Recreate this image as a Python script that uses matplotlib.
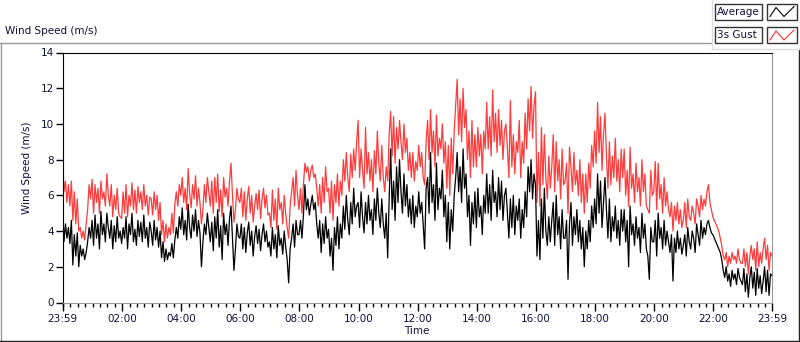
import numpy as np
import matplotlib
matplotlib.use("Agg")
import matplotlib.pyplot as plt
from matplotlib.patches import Rectangle

# minutes after 23:59, one sample every 3 minutes (one row = one hour)
minutes = np.arange(0, 1441, 3)

average = [
    5.5, 3.4, 4.4, 3.6, 4.2, 3.3, 4.6, 2.1, 3.8, 2.6, 3.9, 2.0, 3.2, 2.6, 3.0, 2.4, 2.8, 3.4, 4.2, 3.6,
    4.6, 3.2, 4.9, 3.6, 4.4, 3.0, 5.1, 3.8, 4.4, 3.4, 5.0, 4.2, 3.6, 4.6, 3.0, 4.3, 3.4, 4.8, 3.6, 4.0,
    3.3, 4.2, 3.6, 4.8, 3.0, 4.4, 3.8, 5.0, 3.4, 4.1, 3.2, 4.6, 3.7, 4.5, 3.4, 4.9, 3.6, 4.2, 3.1, 4.5,
    4.0, 3.2, 4.6, 3.5, 4.2, 3.1, 4.0, 2.5, 3.4, 2.3, 3.0, 2.4, 2.8, 2.6, 3.3, 2.5, 3.5, 4.2, 3.6, 4.8,
    4.1, 5.3, 3.8, 4.6, 3.5, 5.5, 4.2, 3.6, 4.9, 4.0, 5.2, 3.7, 4.6, 3.9, 2.0, 3.4, 4.4, 3.8, 5.0, 4.2,
    3.4, 4.5, 2.9, 4.8, 3.6, 5.2, 3.1, 4.3, 2.4, 5.0, 3.8, 4.4, 3.2, 4.7, 5.4, 3.6, 1.8, 3.0, 4.4, 3.7,
    3.6, 4.4, 3.0, 4.2, 2.8, 3.9, 4.5, 3.2, 4.0, 2.6, 3.7, 4.3, 3.3, 4.1, 2.9, 3.8, 4.4, 3.4, 4.0, 3.1,
    3.4, 2.6, 4.2, 3.0, 3.8, 2.5, 4.3, 3.2, 3.6, 2.7, 4.0, 3.1, 2.4, 1.1, 3.0, 3.6, 4.4, 3.1, 4.6, 3.8,
    3.8, 4.6, 3.6, 4.9, 6.6, 5.2, 5.8, 4.9, 5.5, 6.0, 5.2, 5.6, 4.4, 3.6, 4.6, 2.8, 4.4, 3.3, 4.8, 3.6,
    4.1, 2.6, 3.6, 1.8, 4.2, 3.2, 4.8, 3.0, 4.4, 3.6, 5.4, 4.1, 6.0, 4.6, 3.8, 5.6, 4.4, 6.4, 4.8, 5.4,
    5.6, 4.2, 6.2, 4.8, 3.9, 5.6, 4.4, 6.0, 4.6, 5.2, 3.8, 5.8, 4.6, 6.4, 5.0, 4.2, 5.8, 4.4, 3.6, 5.0,
    2.5, 5.8, 8.6, 5.2, 6.8, 4.6, 7.6, 5.6, 8.0, 6.2, 5.0, 7.2, 5.4, 6.6, 4.8, 5.8, 4.4, 6.0, 4.2, 5.4,
    4.8, 6.2, 5.0, 5.6, 4.4, 3.0, 6.4, 7.0, 5.0, 8.4, 5.6, 6.6, 4.6, 7.8, 5.2, 6.4, 5.8, 7.4, 4.8, 6.0,
    3.4, 5.6, 3.0, 5.2, 4.0, 6.0, 7.0, 8.4, 6.2, 7.6, 5.6, 8.6, 6.4, 7.2, 4.8, 6.0, 3.2, 5.6, 4.4, 6.2,
    4.2, 6.4, 4.8, 5.4, 3.8, 6.0, 5.0, 7.2, 5.0, 6.6, 4.6, 7.4, 5.6, 6.2, 4.8, 7.0, 5.2, 6.8, 4.6, 6.0,
    6.4, 5.0, 3.6, 5.8, 4.2, 6.0, 3.8, 5.4, 4.6, 5.8, 3.6, 5.2, 4.2, 6.2, 4.8, 7.6, 6.2, 8.0, 5.8, 7.2,
    6.6, 2.6, 4.6, 2.4, 5.8, 3.6, 6.4, 4.0, 3.2, 4.8, 3.4, 4.6, 5.6, 3.2, 6.0, 3.8, 4.8, 3.0, 5.2, 3.6,
    3.6, 4.6, 1.3, 4.4, 5.6, 3.2, 4.8, 3.8, 5.2, 3.4, 4.6, 3.0, 4.2, 2.0, 4.0, 3.0, 4.6, 3.4, 5.4, 4.2,
    5.8, 4.4, 7.2, 5.0, 6.8, 4.2, 5.6, 7.0, 5.2, 3.6, 5.8, 3.4, 4.8, 4.0, 5.4, 3.6, 4.6, 3.2, 5.2, 4.0,
    5.2, 3.4, 4.6, 2.0, 5.4, 3.8, 4.4, 3.2, 4.8, 3.6, 4.2, 2.8, 5.0, 3.6, 4.4, 3.0, 2.6, 1.3, 4.2, 3.4,
    3.4, 4.6, 2.6, 5.0, 3.6, 4.2, 3.0, 4.6, 3.2, 4.0, 3.4, 2.8, 3.8, 1.2, 3.6, 2.8, 4.0, 3.0, 3.6, 2.7,
    3.2, 3.8, 2.6, 4.2, 3.4, 3.0, 4.0, 3.6, 2.8, 4.4, 3.8, 3.2, 4.6, 3.6, 4.2, 3.8, 4.4, 4.6, 4.2, 3.9,
    3.8, 3.6, 3.4, 3.2, 3.0, 2.8, 2.4, 1.8, 1.4, 2.0, 1.2, 1.6, 0.9, 1.8, 1.3, 1.6, 1.0, 1.9, 1.4, 1.2,
    1.0, 1.9, 0.6, 1.6, 0.3, 1.4, 2.0, 0.8, 1.7, 0.4, 1.9, 0.8, 1.5, 0.5, 1.2, 2.0, 0.6, 1.8, 0.4, 1.6,
    1.5,
]

gust = [
    8.5, 6.2, 6.8, 5.6, 6.6, 5.4, 6.8, 4.6, 6.2, 4.4, 5.8, 4.0, 4.2, 3.6, 4.0, 3.5, 4.4, 5.2, 6.6, 5.8,
    6.9, 5.0, 6.6, 5.6, 6.4, 5.0, 6.8, 5.8, 6.2, 5.4, 7.2, 6.0, 5.4, 6.6, 4.8, 6.0, 5.2, 6.4, 5.0, 4.8,
    4.7, 6.2, 5.0, 6.6, 4.8, 6.0, 5.4, 6.7, 5.2, 6.3, 5.0, 6.5, 5.6, 6.2, 5.2, 6.6, 5.4, 6.0, 4.9, 5.9,
    5.8, 4.9, 6.2, 5.2, 6.0, 4.6, 5.6, 3.8, 4.6, 3.4, 4.4, 3.6, 4.2, 3.8, 5.0, 3.9, 5.5, 6.2, 5.4, 6.6,
    6.0, 7.0, 5.6, 6.4, 5.2, 7.5, 6.1, 5.3, 6.6, 5.8, 7.1, 5.4, 6.4, 5.6, 4.4, 5.2, 6.6, 5.6, 7.0, 6.2,
    5.4, 6.8, 5.0, 7.0, 5.6, 7.2, 5.1, 6.3, 4.8, 7.0, 5.9, 6.4, 5.4, 6.8, 7.8, 6.0, 4.5, 5.2, 6.4, 5.8,
    5.6, 6.4, 4.8, 6.2, 4.6, 5.8, 6.5, 5.0, 6.0, 4.5, 5.4, 6.1, 5.2, 6.3, 4.7, 5.8, 6.4, 5.3, 6.0, 4.9,
    5.0, 4.2, 6.3, 4.6, 5.8, 4.1, 6.4, 5.2, 5.6, 4.4, 6.0, 5.0, 4.2, 3.6, 5.4, 6.2, 7.0, 5.4, 7.4, 6.0,
    5.2, 6.4, 5.0, 6.6, 7.8, 7.3, 7.6, 6.8, 7.4, 7.7, 7.0, 7.2, 6.4, 5.4, 6.6, 5.0, 7.0, 5.6, 7.6, 6.2,
    6.4, 5.0, 6.8, 4.6, 6.6, 5.6, 7.2, 5.4, 6.8, 6.0, 8.0, 6.8, 8.4, 7.0, 6.2, 8.3, 7.0, 8.6, 7.4, 9.0,
    10.2, 7.0, 8.6, 7.4, 6.4, 9.8, 7.2, 8.4, 6.8, 8.0, 6.2, 8.5, 7.2, 9.6, 7.8, 6.8, 8.8, 7.0, 6.2, 7.6,
    6.8, 9.4, 10.7, 8.2, 10.4, 7.8, 9.8, 8.6, 10.2, 9.0, 8.0, 10.0, 8.4, 9.2, 7.4, 8.4, 7.0, 8.4, 6.8, 7.9,
    7.4, 8.8, 7.6, 8.4, 7.0, 6.6, 9.0, 10.2, 8.0, 10.8, 8.4, 9.6, 7.6, 10.5, 8.2, 9.2, 8.6, 10.0, 7.8, 9.0,
    6.4, 8.8, 6.0, 9.2, 7.2, 9.6, 11.0, 12.5, 9.4, 11.4, 9.0, 12.0, 9.8, 10.8, 8.0, 9.6, 7.0, 10.2, 7.6, 9.4,
    7.6, 9.8, 8.2, 9.4, 7.2, 9.6, 8.6, 11.2, 8.6, 10.4, 8.2, 11.9, 9.0, 10.6, 8.4, 10.8, 8.8, 10.2, 8.0, 9.6,
    10.0, 8.6, 7.0, 11.3, 7.6, 9.4, 7.2, 9.0, 8.4, 10.2, 7.0, 9.0, 7.8, 10.6, 8.6, 11.4, 9.6, 12.1, 9.2, 11.0,
    11.8, 5.6, 8.4, 5.4, 9.8, 6.6, 9.4, 7.0, 5.8, 8.2, 6.4, 7.6, 9.4, 6.2, 9.0, 6.8, 8.0, 5.8, 8.6, 6.6,
    6.8, 7.8, 5.0, 8.7, 7.6, 6.2, 8.4, 6.6, 7.4, 6.0, 8.0, 5.6, 7.2, 5.0, 7.2, 5.6, 7.8, 6.4, 8.8, 7.6,
    9.6, 7.8, 11.2, 8.4, 10.4, 7.4, 9.4, 10.6, 8.2, 6.4, 9.0, 6.6, 8.2, 7.0, 9.2, 6.8, 8.0, 6.2, 8.6, 7.0,
    8.6, 6.0, 7.4, 5.4, 8.7, 6.4, 7.2, 5.6, 7.8, 6.2, 7.0, 5.4, 8.0, 6.2, 7.2, 5.4, 5.2, 5.0, 7.4, 6.0,
    6.2, 7.9, 5.2, 7.8, 5.8, 6.6, 5.0, 7.0, 5.4, 6.2, 5.2, 4.8, 5.6, 4.0, 5.4, 4.6, 5.6, 4.4, 5.2, 4.2,
    4.6, 5.6, 4.2, 5.8, 4.8, 4.6, 5.4, 5.0, 4.4, 5.8, 5.4, 4.8, 6.0, 5.2, 5.8, 5.4, 6.2, 6.6, 5.6, 5.2,
    4.8, 4.6, 4.4, 4.2, 4.0, 3.6, 3.2, 2.6, 2.4, 2.8, 2.0, 2.6, 2.2, 2.8, 2.4, 2.6, 2.2, 3.0, 2.4, 2.2,
    2.2, 3.0, 2.0, 2.8, 1.6, 2.6, 3.2, 2.4, 3.0, 1.8, 3.4, 2.0, 2.8, 2.2, 3.0, 3.6, 2.4, 3.2, 1.8, 2.8,
    2.6,
]

tick_pos = [0, 121, 241, 361, 481, 601, 721, 841, 961, 1081, 1201, 1321, 1440]
tick_labels = ["23:59", "02:00", "04:00", "06:00", "08:00", "10:00", "12:00",
               "14:00", "16:00", "18:00", "20:00", "22:00", "23:59"]
y_ticks = [0, 2, 4, 6, 8, 10, 12, 14]

txt = "#10103a"
plt.rcParams["font.family"] = ["DejaVu Sans"]
plt.rcParams["font.size"] = 7.5

fig = plt.figure(figsize=(8, 3.42), dpi=100)

# frame / decorations drawn in pixel coordinates
bg = fig.add_axes([0, 0, 1, 1])
bg.set_xlim(0, 800)
bg.set_ylim(342, 0)
bg.axis("off")
bg.plot([0, 711], [42.5, 42.5], color="#999999", lw=1)
bg.plot([1, 1], [42.5, 341], color="#999999", lw=1)
bg.plot([0, 799], [340.5, 340.5], color="#222222", lw=1)
bg.plot([798.5, 798.5], [49, 341], color="#222222", lw=1)
bg.plot([711.5, 711.5], [0, 49], color="#dddddd", lw=1)
bg.plot([711.5, 799], [49, 49], color="#dddddd", lw=1)
bg.text(5, 31, "Wind Speed (m/s)", color=txt, va="center", ha="left", fontsize=7.5)

for row, (name, col) in enumerate([("Average", "black"), ("3s Gust", "#ff3030")]):
    y0 = 3.5 + row * 23.5
    bg.add_patch(Rectangle((715, y0), 47, 16, fill=False, ec="#333333", lw=1))
    bg.add_patch(Rectangle((767, y0), 30, 16, fill=False, ec="#333333", lw=1))
    bg.text(717, y0 + 8.5, name, color=txt, va="center", ha="left", fontsize=7.5)
    bg.plot([770, 776, 784, 794], [y0 + 13, y0 + 4, y0 + 13, y0 + 3], color=col, lw=0.8)

ax = fig.add_axes([62.5 / 800, (342 - 302.5) / 342, 709.5 / 800, 250 / 342])
ax.plot(minutes, gust, color="#ff3b3b", lw=0.9)
ax.plot(minutes, average, color="black", lw=0.9)

ax.set_xlim(0, 1440)
ax.set_ylim(0, 14)
ax.set_xticks(tick_pos)
ax.set_xticklabels(tick_labels, color=txt)
ax.set_xticks(np.arange(1, 1440, 15), minor=True)
ax.set_yticks(y_ticks)
ax.set_yticklabels([str(v) for v in y_ticks], color=txt)
ax.tick_params(axis="x", which="major", length=6, width=1, pad=2)
ax.tick_params(axis="x", which="minor", length=3, width=1)
ax.tick_params(axis="y", which="major", length=5, width=1, pad=1)
ax.spines["left"].set_color("black")
ax.spines["top"].set_color("black")
ax.spines["right"].set_color("#999999")
ax.spines["bottom"].set_color("#999999")
ax.set_xlabel("Time", color=txt, labelpad=2)
ax.set_ylabel("Wind Speed (m/s)", color=txt)
ax.yaxis.set_label_coords(-0.043, 0.54)

fig.savefig("out.png", dpi=100)
